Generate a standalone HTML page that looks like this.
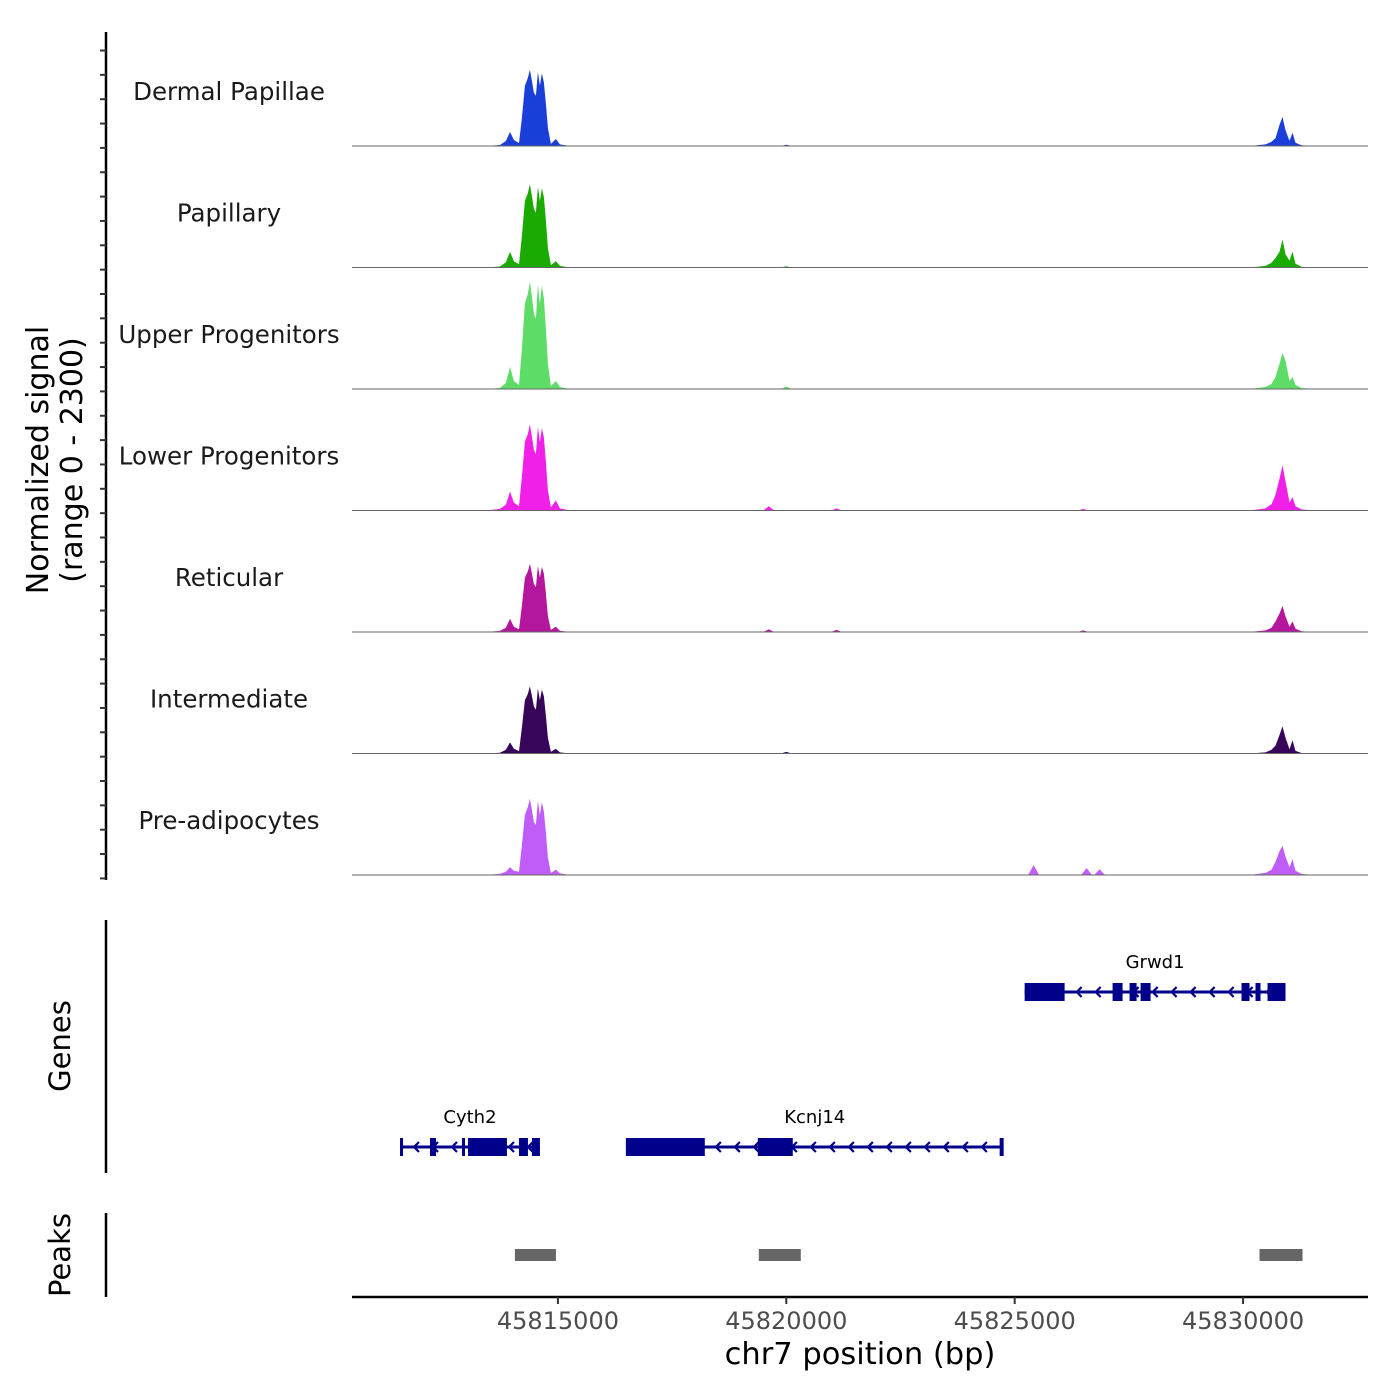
<!DOCTYPE html>
<html><head><meta charset="utf-8"><style>
html,body{margin:0;padding:0;background:#fff;}
svg{display:block;font-family:"DejaVu Sans","Liberation Sans",sans-serif;}
</style></head><body>
<svg id="chart" width="1400" height="1400" viewBox="0 0 1400 1400" xmlns="http://www.w3.org/2000/svg"></svg>
<script>
// ---- data ----
const trackNames = ["Dermal Papillae","Papillary","Upper Progenitors","Lower Progenitors","Reticular","Intermediate","Pre-adipocytes"];
const trackColors = ["#1a3fd9","#1aaa00","#5ddc68","#f020e8","#b5169e","#37065a","#c05cf8"];
const mainPos = [45813425,45813731,45813862,45813950,45814037,45814147,45814212,45814278,45814344,45814387,45814431,45814475,45814519,45814562,45814606,45814650,45814694,45814737,45814781,45814847,45814956,45815044,45815263];
const rightPos = [45830141,45830491,45830622,45830710,45830797,45830863,45830929,45831016,45831082,45831148,45831279,45831563];
const mainDP  = [0,19,95,266,114,57,532,1140,1292,1444,1235,1007,950,1400,1140,1380,1200,800,340,40,133,30,0];
const mainPap = [0,19,100,300,120,60,600,1260,1410,1577,1360,1110,1040,1530,1260,1500,1330,890,370,45,120,30,0];
const mainUp  = [0,19,114,418,152,76,760,1615,1805,2033,1748,1425,1330,1976,1615,1957,1710,1140,475,57,152,38,0];
const mainLow = [0,30,110,360,150,80,640,1300,1450,1634,1400,1150,1070,1580,1300,1560,1380,920,380,60,190,40,0];
const mainRet = [0,20,80,250,100,50,500,1030,1150,1292,1110,910,850,1250,1030,1230,1100,730,300,40,100,25,0];
const mainInt = [0,15,70,210,90,45,490,1010,1130,1273,1090,890,830,1230,1010,1210,1080,710,300,35,90,20,0];
const mainPre = [0,20,60,150,80,60,560,1140,1290,1444,1235,1000,950,1400,1140,1380,1200,800,330,40,100,30,0];
const rightDP  = [0,30,80,150,400,550,300,100,250,60,15,0];
const rightPap = [0,30,90,180,300,530,250,130,300,70,15,0];
const rightUp  = [0,38,95,228,475,684,532,152,228,76,19,0];
const rightLow = [0,40,120,300,600,855,550,150,250,80,20,0];
const rightRet = [0,30,80,200,350,494,300,100,200,60,15,0];
const rightInt = [0,20,70,150,350,513,300,80,250,50,10,0];
const rightPre = [0,40,100,250,450,550,350,150,300,80,20,0];
const bumpPos = [[45820000],[45820000],[45820000],[45819617,45821100,45826500],[45819617,45821100,45826500],[45820000],[45825415,45826575,45826860]];
const bumpVal = [[25],[25],[45],[80,40,30],[50,40,30],[30],[190,130,110]];
const xTicks = [45815000,45820000,45825000,45830000];
const xTickLabels = ["45815000","45820000","45825000","45830000"];
const genes = [
 {name:"Cyth2", start:45811543, end:45814606, row:1, exons:[[45811543,45811609],[45812199,45812331],[45812900,45812965],[45813031,45813884],[45814147,45814344],[45814431,45814606]]},
 {name:"Kcnj14", start:45816488, end:45824758, row:1, exons:[[45816488,45818216],[45819376,45820142],[45824671,45824758]]},
 {name:"Grwd1", start:45825218, end:45830929, row:0, exons:[[45825218,45826093],[45827143,45827362],[45827515,45827669],[45827756,45827975],[45829966,45830141],[45830272,45830382],[45830535,45830929]]}
];
const peaksStart = [45814059,45819398,45830360];
const peaksEnd = [45814956,45820317,45831301];
const yMax = 2300;
const mains = [mainDP,mainPap,mainUp,mainLow,mainRet,mainInt,mainPre];
const rights = [rightDP,rightPap,rightUp,rightLow,rightRet,rightInt,rightPre];

// ---- scales ----
const X0=352, X1=1368, BP0=45810492, BP1=45832735;
const xs = bp => X0 + (bp-BP0)/(BP1-BP0)*(X1-X0);
const trackTop = 25, trackH = 121.5;
const baseY = i => trackTop + (i+1)*trackH - 0.5;
const ys = (i,v) => baseY(i) - v/yMax*trackH;

const svg = document.getElementById('chart');
const NS="http://www.w3.org/2000/svg";
function mk(tag, attrs, parent){const e=document.createElementNS(NS,tag);for(const k in attrs)e.setAttribute(k,attrs[k]);(parent||svg).appendChild(e);return e;}

for(let i=0;i<7;i++){
  const g=mk('g',{});
  
  
  let pts=[];
  mainPos.forEach((p,j)=>pts.push([p,mains[i][j]]));
  rightPos.forEach((p,j)=>pts.push([p,rights[i][j]]));
  bumpPos[i].forEach((p,j)=>{pts.push([p-120,0]);pts.push([p,bumpVal[i][j]]);pts.push([p+120,0]);});
  pts.sort((a,b)=>a[0]-b[0]);
  let d='M'+X0+','+baseY(i);
  pts.forEach(q=>{d+=' L'+xs(q[0]).toFixed(1)+','+ys(i,q[1]).toFixed(1);});
  d+=' L'+X1+','+baseY(i)+' Z';
  const a=mk('path',{d:d,fill:trackColors[i]},g);
  
  
  const bl=mk('line',{x1:X0,x2:X1,y1:baseY(i),y2:baseY(i),stroke:'#666','stroke-width':1},g);
  
  
  const t=mk('text',{x:229,y:baseY(i)-46,'text-anchor':'middle','font-size':24.5,fill:'#1a1a1a'},g);
  t.textContent=trackNames[i];
  
  
}

const ax=mk('line',{x1:106,x2:106,y1:32,y2:880,stroke:'#000','stroke-width':2.5});


for(let y=50.5;y<=880;y+=24.35){
  const tk=mk('line',{x1:100,x2:106,y1:y,y2:y,stroke:'#333','stroke-width':2});
  
  
}
const yt=mk('text',{transform:'translate(52,460) rotate(-90)','text-anchor':'middle','font-size':30,fill:'#000'});


yt.innerHTML='<tspan x="0" dy="-4">Normalized signal</tspan><tspan x="0" dy="34">(range 0 - 2300)</tspan>';

const ga=mk('line',{x1:106,x2:106,y1:920,y2:1173,stroke:'#000','stroke-width':2.5});


const gt=mk('text',{transform:'translate(70,1046) rotate(-90)','text-anchor':'middle','font-size':29});
gt.textContent='Genes';


const gc='#00008b';
genes.forEach(gn=>{
  const gy = gn.row===0?992:1147;
  const g=mk('g',{});
  
  
  mk('line',{x1:xs(gn.start),x2:xs(gn.end),y1:gy,y2:gy,stroke:gc,'stroke-width':3},g);
  for(let x=xs(gn.start)+14;x<xs(gn.end)-6;x+=19){
    mk('polyline',{points:(x+5)+','+(gy-5)+' '+x+','+gy+' '+(x+5)+','+(gy+5),fill:'none',stroke:gc,'stroke-width':2.2},g);
  }
  gn.exons.forEach(e=>{
    const r=mk('rect',{x:xs(e[0]),y:gy-9,width:Math.max(3,xs(e[1])-xs(e[0])),height:18,fill:gc},g);
    
    
  });
  const t=mk('text',{x:(xs(gn.start)+xs(gn.end))/2,y:gy-24,'text-anchor':'middle','font-size':18},g);
  t.textContent=gn.name;
  
  
});

const pa=mk('line',{x1:106,x2:106,y1:1213,y2:1297,stroke:'#000','stroke-width':2.5});


const pt=mk('text',{transform:'translate(70,1255) rotate(-90)','text-anchor':'middle','font-size':29});
pt.textContent='Peaks';


peaksStart.forEach((s,j)=>{
  const r=mk('rect',{x:xs(s),y:1249,width:xs(peaksEnd[j])-xs(s),height:12,fill:'#666'});
  
  
});

const xa=mk('line',{x1:X0,x2:X1,y1:1297,y2:1297,stroke:'#000','stroke-width':2.5});


xTicks.forEach((v,j)=>{
  const tk=mk('line',{x1:xs(v),x2:xs(v),y1:1297,y2:1304,stroke:'#333','stroke-width':2});
  
  
  const t=mk('text',{x:xs(v),y:1329,'text-anchor':'middle','font-size':24,fill:'#4d4d4d'});
  t.textContent=xTickLabels[j];
  
  
});
const xt=mk('text',{x:860,y:1364,'text-anchor':'middle','font-size':30.5});
xt.textContent='chr7 position (bp)';


</script>
</body></html>
